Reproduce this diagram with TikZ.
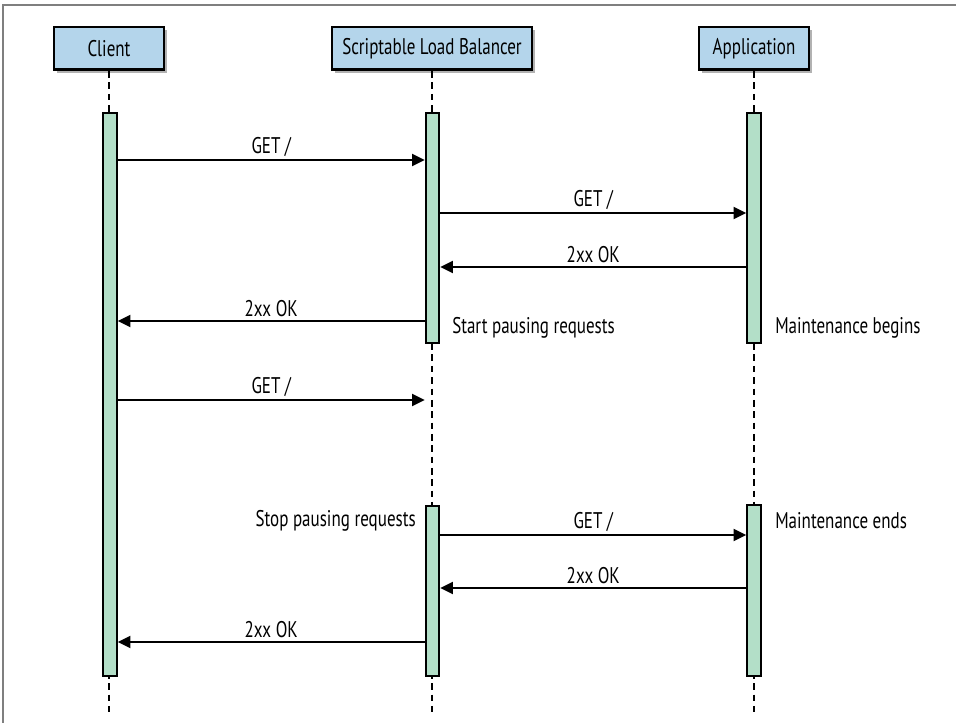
\documentclass[tikz,border=0pt]{standalone}
\usepackage{fontspec}
\setmainfont{PT Sans}[FakeStretch=0.75]
\usetikzlibrary{arrows.meta,positioning,shadows}
\definecolor{boxblue}{HTML}{B4D5EB}
\definecolor{bargreen}{HTML}{B3DFC8}
\definecolor{framegray}{HTML}{7F7F7F}

\begin{document}
\begin{tikzpicture}[x=0.75pt,y=-0.75pt,font=\fontsize{17}{19}\selectfont,
  actor/.style={draw=black,line width=2pt,fill=boxblue,minimum height=32pt,inner sep=0pt,
    drop shadow={shadow xshift=2pt,shadow yshift=-2.5pt,fill=black,opacity=0.3}},
  bar/.style={draw=black,line width=1.7pt,fill=bargreen,minimum width=10pt,inner sep=0pt,anchor=north},
  life/.style={line width=1.8pt,dash pattern=on 5pt off 3.5pt},
  msg/.style={line width=1.7pt,-{Triangle[length=9.5pt,width=9pt]}},
  lbl/.style={above,inner sep=2pt},
  note/.style={inner sep=0pt}]
  \useasboundingbox (0,0) rectangle (956,723);
  \draw[framegray,line width=1pt] (3,723) -- (3,5) -- (956,5);

  % participants
  \node[actor,minimum width=82.5pt] (client) at (109,48.5) {Client};
  \node[actor,minimum width=150pt] (lb) at (432,48.5) {Scriptable Load Balancer};
  \node[actor,minimum width=82.5pt] (app) at (754,48.5) {Application};

  % lifelines
  \foreach \p in {client,lb,app}
    \draw[life] (\p.south) -- (\p.south |- 0,712);

  % activations
  \node[bar,minimum height=422pt] (cbar) at (110,112) {};
  \node[bar,minimum height=172.5pt] (lbbarA) at (432.5,112) {};
  \node[bar,minimum height=127.5pt] (lbbarB) at (432.5,505) {};
  \node[bar,minimum height=172.5pt] (appbarA) at (754,112) {};
  \node[bar,minimum height=128pt] (appbarB) at (754,504) {};

  % message rows
  \coordinate (y1) at (0,160);
  \coordinate (y2) at (0,213);
  \coordinate (y3) at (0,267);
  \coordinate (y4) at (0,321);
  \coordinate (y5) at (0,400);
  \coordinate (y6) at (0,535);
  \coordinate (y7) at (0,588);
  \coordinate (y8) at (0,642);

  \draw[msg] (cbar.east |- y1) -- node[lbl] {GET /} (lbbarA.west |- y1);
  \draw[msg] (lbbarA.east |- y2) -- node[lbl] {GET /} (appbarA.west |- y2);
  \draw[msg] (appbarA.west |- y3) -- node[lbl] {2xx OK} (lbbarA.east |- y3);
  \draw[msg] (lbbarA.west |- y4) -- node[lbl] {2xx OK} (cbar.east |- y4);
  \draw[msg] (cbar.east |- y5) -- node[lbl] {GET /} (lbbarA.west |- y5);
  \draw[msg] (lbbarB.east |- y6) -- node[lbl] {GET /} (appbarB.west |- y6);
  \draw[msg] (appbarB.west |- y7) -- node[lbl] {2xx OK} (lbbarB.east |- y7);
  \draw[msg] (lbbarB.west |- y8) -- node[lbl] {2xx OK} (cbar.east |- y8);

  % notes
  \node[note,anchor=west] (pausestart) at (452,328) {Start pausing requests};
  \node[note,anchor=west] (maintstart) at (775,328) {Maintenance begins};
  \node[note,anchor=east] (pausestop) at (416,521) {Stop pausing requests};
  \node[note,anchor=west] (maintstop) at (775,521) {Maintenance ends};
\end{tikzpicture}
\end{document}
